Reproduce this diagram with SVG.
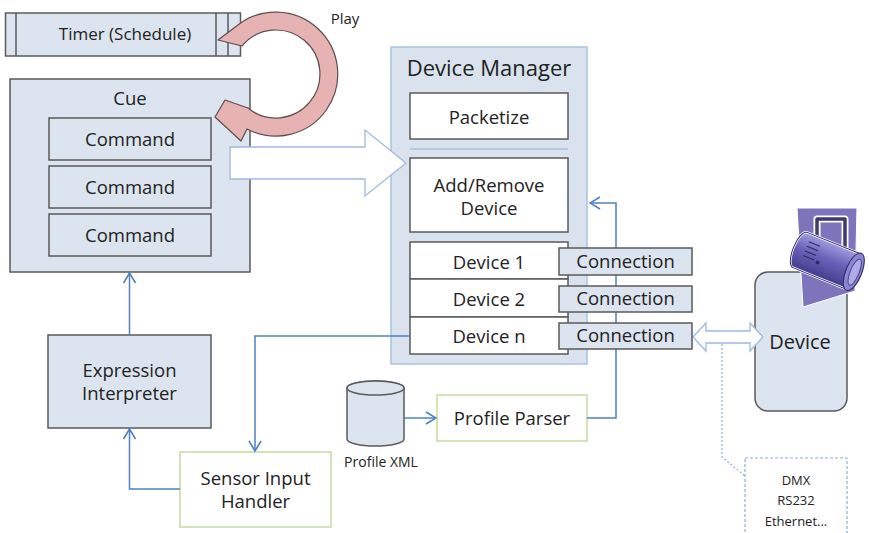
<svg xmlns="http://www.w3.org/2000/svg" width="869" height="533" viewBox="0 0 869 533">
  <style>
    text { font-family: "Open Sans", "Noto Sans", "Liberation Sans", sans-serif; fill: #222; text-anchor: middle; }
    .t { font-size: 18.5px; }
    .box { fill: #dce5ef; stroke: #5a5a5a; stroke-width: 1.5; }
    .white { fill: #ffffff; stroke: #5a5a5a; stroke-width: 1.5; }
    .green { fill: #ffffff; stroke: #c6da9e; stroke-width: 1.5; }
    .mgr { fill: #d9e2ed; stroke: #a9c2df; stroke-width: 1.5; }
    .wire { fill: none; stroke: #4f81c2; stroke-width: 1.5; }
    .block { fill: #ffffff; stroke: #9db9de; stroke-width: 1.3; }
    .dot { fill: none; stroke: #8eaedb; stroke-width: 1.2; stroke-dasharray: 2 2; }
  </style>
  <defs>
    <marker id="open" viewBox="0 0 12 14" refX="11" refY="7" markerWidth="12" markerHeight="14" markerUnits="userSpaceOnUse" orient="auto">
      <path d="M1,1 L11,7 L1,13" fill="none" stroke="#4f81c2" stroke-width="1.6"/>
    </marker>
    <linearGradient id="lampBody" x1="0" y1="0" x2="0" y2="1">
      <stop offset="0" stop-color="#a29cdf"/>
      <stop offset="0.45" stop-color="#6a62b8"/>
      <stop offset="1" stop-color="#443d8e"/>
    </linearGradient>
  </defs>

  <rect width="869" height="533" fill="#ffffff"/>

  <!-- Timer -->
  <g id="timer">
    <rect class="box" x="5.5" y="13" width="235" height="43"/>
    <line x1="16" y1="13" x2="16" y2="56" stroke="#5a5a5a" stroke-width="1.5"/>
    <line x1="216" y1="13" x2="216" y2="56" stroke="#5a5a5a" stroke-width="1.5"/>
    <line x1="228" y1="13" x2="228" y2="56" stroke="#5a5a5a" stroke-width="1.5"/>
    <text x="125" y="40" style="font-size:17px">Timer (Schedule)</text>
  </g>

  <!-- Cue with commands -->
  <g id="cue">
    <rect class="box" x="10" y="79" width="240" height="193"/>
    <text class="t" x="130" y="105">Cue</text>
  </g>
  <g id="command1">
    <rect class="box" x="49" y="118" width="162" height="42"/>
    <text class="t" x="130" y="146">Command</text>
  </g>
  <g id="command2">
    <rect class="box" x="49" y="166" width="162" height="42"/>
    <text class="t" x="130" y="194">Command</text>
  </g>
  <g id="command3">
    <rect class="box" x="49" y="214" width="162" height="42"/>
    <text class="t" x="130" y="242">Command</text>
  </g>

  <!-- Device Manager -->
  <g id="device-manager">
    <rect class="mgr" x="391" y="47" width="196" height="317"/>
    <text x="489" y="76" style="font-size:22px">Device Manager</text>
    <line x1="410" y1="149" x2="568" y2="149" stroke="#a9c2df" stroke-width="1.5"/>
  </g>
  <g id="packetize">
    <rect class="white" x="410" y="93" width="158" height="46"/>
    <text class="t" x="489" y="124">Packetize</text>
  </g>
  <g id="add-remove">
    <rect class="white" x="410" y="158" width="158" height="74"/>
    <text class="t" x="489" y="192">Add/Remove</text>
    <text class="t" x="489" y="215">Device</text>
  </g>
  <g id="device1">
    <rect class="white" x="410" y="242" width="158" height="37"/>
    <text class="t" x="489" y="269">Device 1</text>
  </g>
  <g id="device2">
    <rect class="white" x="410" y="279" width="158" height="38"/>
    <text class="t" x="489" y="306">Device 2</text>
  </g>
  <g id="device-n">
    <rect class="white" x="410" y="317" width="158" height="37"/>
    <text class="t" x="489" y="343">Device n</text>
  </g>

  <!-- Expression Interpreter -->
  <g id="expression-interpreter">
    <rect class="box" x="48" y="335" width="163" height="93"/>
    <text class="t" x="129.5" y="377">Expression</text>
    <text class="t" x="129.5" y="400">Interpreter</text>
  </g>

  <!-- Sensor Input Handler -->
  <g id="sensor-input-handler">
    <rect class="green" x="180" y="452" width="151" height="75"/>
    <text class="t" x="255.5" y="485">Sensor Input</text>
    <text class="t" x="255.5" y="508">Handler</text>
  </g>

  <!-- Profile XML store -->
  <g id="profile-xml">
    <path d="M347,388 L347,439 A28.5,7 0 0 0 404,439 L404,388 A28.5,7 0 0 0 347,388 Z" fill="#dce5ef" stroke="#5a5a5a" stroke-width="1.5"/>
    <ellipse cx="375.5" cy="388" rx="28.5" ry="7" fill="#dce5ef" stroke="#5a5a5a" stroke-width="1.5"/>
    <text x="381" y="467" style="font-size:14px">Profile XML</text>
  </g>

  <!-- Profile Parser -->
  <g id="profile-parser">
    <rect class="green" x="437" y="395" width="150" height="46"/>
    <text class="t" x="512" y="425">Profile Parser</text>
  </g>

  <!-- Physical device with lamp -->
  <g id="device">
    <rect class="box" x="755" y="272" width="92" height="139" rx="13" ry="13"/>
    <text x="800" y="349" style="font-size:20px">Device</text>
  </g>
  <g id="lamp">
    <polygon points="797,208 857,208 855,291 803,307" fill="#7d74bb" stroke="#ffffff" stroke-width="1"/>
    <path d="M817,248 V219 H845 V252" fill="none" stroke="#ffffff" stroke-width="7" stroke-linejoin="round"/>
    <path d="M817,248 V219 H845 V252" fill="none" stroke="#3f3a6e" stroke-width="3.5" stroke-linejoin="round"/>
    <g transform="translate(800,250) rotate(22)">
      <path d="M0,-19 H58 V19 H0 A7,19 0 0 1 0,-19 Z" fill="url(#lampBody)" stroke="#ffffff" stroke-width="2.5"/>
      <path d="M0,-19 H58 V19 H0 A7,19 0 0 1 0,-19 Z" fill="none" stroke="#2f2a66" stroke-width="1"/>
      <ellipse cx="58" cy="0" rx="8" ry="20" fill="#8c86d0" stroke="#2f2a66" stroke-width="1"/>
      <ellipse cx="59" cy="0" rx="4.5" ry="14" fill="#b0abe6" stroke="#4a4392" stroke-width="1"/>
      <path d="M5,-11 H17 M5,-6 H17 M5,-1 H17 M5,4 H17" stroke="#2f2a66" stroke-width="1"/>
      <circle cx="21" cy="5" r="2" fill="#2f2a66"/>
    </g>
  </g>

  <!-- Interface list -->
  <g id="interfaces">
    <rect x="745" y="458" width="102" height="85" fill="#ffffff" stroke="#8eaedb" stroke-width="1.2" stroke-dasharray="3 2"/>
    <text x="796" y="485" style="font-size:13px">DMX</text>
    <text x="796" y="505" style="font-size:13px">RS232</text>
    <text x="796" y="526" style="font-size:13px">Ethernet...</text>
  </g>

  <!-- Connectors -->
  <g id="connectors">
    <path class="wire" d="M129.5,335 V273" marker-end="url(#open)"/>
    <path class="wire" d="M180,489 H129.5 V429" marker-end="url(#open)"/>
    <path class="wire" d="M410,336 H255 V451" marker-end="url(#open)"/>
    <path class="wire" d="M404,418 H436" marker-end="url(#open)"/>
    <path class="wire" d="M587,418 H616 V203 H590" marker-end="url(#open)"/>
    <path class="dot" d="M722,344 V457 L745,476"/>
    <!-- command flow into the manager -->
    <polygon class="block" points="230,147 365,147 365,130 406,163 365,196 365,179 230,179"/>
    <!-- bidirectional link to the device -->
    <polygon class="block" points="693,337 706,323 706,331 750,331 750,323 763,337 750,351 750,343 706,343 706,351"/>
    <!-- play loop -->
    <path d="M218,40 L236,26.5 A62,62 0 1 1 247,129 L241,141 L215,117 L225,100 L248,108 A44,44 0 1 0 242,46 Z" fill="#e7b2b2" stroke="#5e4d4d" stroke-width="1.2" stroke-linejoin="round"/>
    <text x="345" y="24" style="font-size:15px">Play</text>
  </g>

  <!-- Connections -->
  <g id="connection1">
    <rect class="box" x="559" y="248" width="133" height="27"/>
    <text class="t" x="625.5" y="268">Connection</text>
  </g>
  <g id="connection2">
    <rect class="box" x="559" y="286" width="133" height="26"/>
    <text class="t" x="625.5" y="305">Connection</text>
  </g>
  <g id="connection-n">
    <rect class="box" x="559" y="323" width="133" height="26"/>
    <text class="t" x="625.5" y="342">Connection</text>
  </g>
</svg>
